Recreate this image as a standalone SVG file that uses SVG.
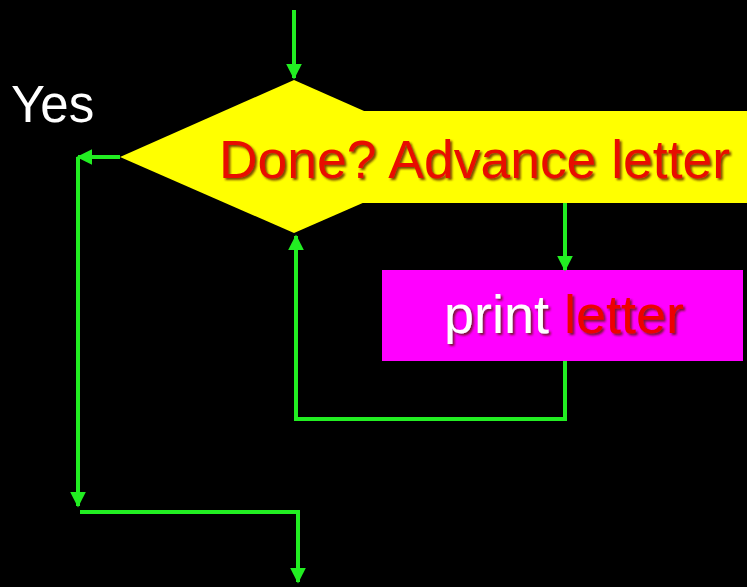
<svg xmlns="http://www.w3.org/2000/svg" width="747" height="587" viewBox="0 0 747 587">
<style>
.conn{fill:none;stroke:#22ee22;stroke-width:4;stroke-linejoin:miter}
.lbl{font-family:"Liberation Sans",Arial,sans-serif;filter:url(#sh)}
</style>
<defs>
<marker id="ah" viewBox="0 0 10 10" refX="9" refY="5" markerWidth="4" markerHeight="4" orient="auto" markerUnits="strokeWidth">
<path d="M0,0 L10,5 L0,10 Z" fill="#22ee22"/>
</marker>
<filter id="sh" x="-5%" y="-20%" width="115%" height="150%">
<feDropShadow dx="2" dy="2" stdDeviation="1" flood-color="#5a1a00" flood-opacity="0.8"/>
</filter>
</defs>
<rect width="747" height="587" fill="#000"/>
<g id="decision">
<polygon points="294,80 468,157 294,233 120,157" fill="#ffff00"/>
<rect x="360" y="111" width="387" height="92" fill="#ffff00"/>
<text class="lbl" x="219" y="178" font-size="53" fill="#e81000" textLength="511" lengthAdjust="spacingAndGlyphs">Done? Advance letter</text>
</g>
<g id="print">
<rect x="382" y="270" width="361" height="91" fill="#ff00ff"/>
<text class="lbl" x="444" y="333" font-size="53" textLength="240" lengthAdjust="spacingAndGlyphs"><tspan fill="#ffffff">print </tspan><tspan fill="#ee0000">letter</tspan></text>
</g>
<g id="yes">
<text x="11" y="122" font-size="51" fill="#ffffff" font-family="Liberation Sans, Arial, sans-serif">Yes</text>
</g>
<g id="connectors">
<path class="conn" d="M294,10 L294,78" marker-end="url(#ah)"/>
<path class="conn" d="M120,157 L78,157" marker-end="url(#ah)"/>
<path class="conn" d="M78,157 L78,506" marker-end="url(#ah)"/>
<path class="conn" d="M80,512 L298,512 L298,582" marker-end="url(#ah)"/>
<path class="conn" d="M565,203 L565,270" marker-end="url(#ah)"/>
<path class="conn" d="M565,361 L565,419 L296,419 L296,236" marker-end="url(#ah)"/>
</g>
</svg>
